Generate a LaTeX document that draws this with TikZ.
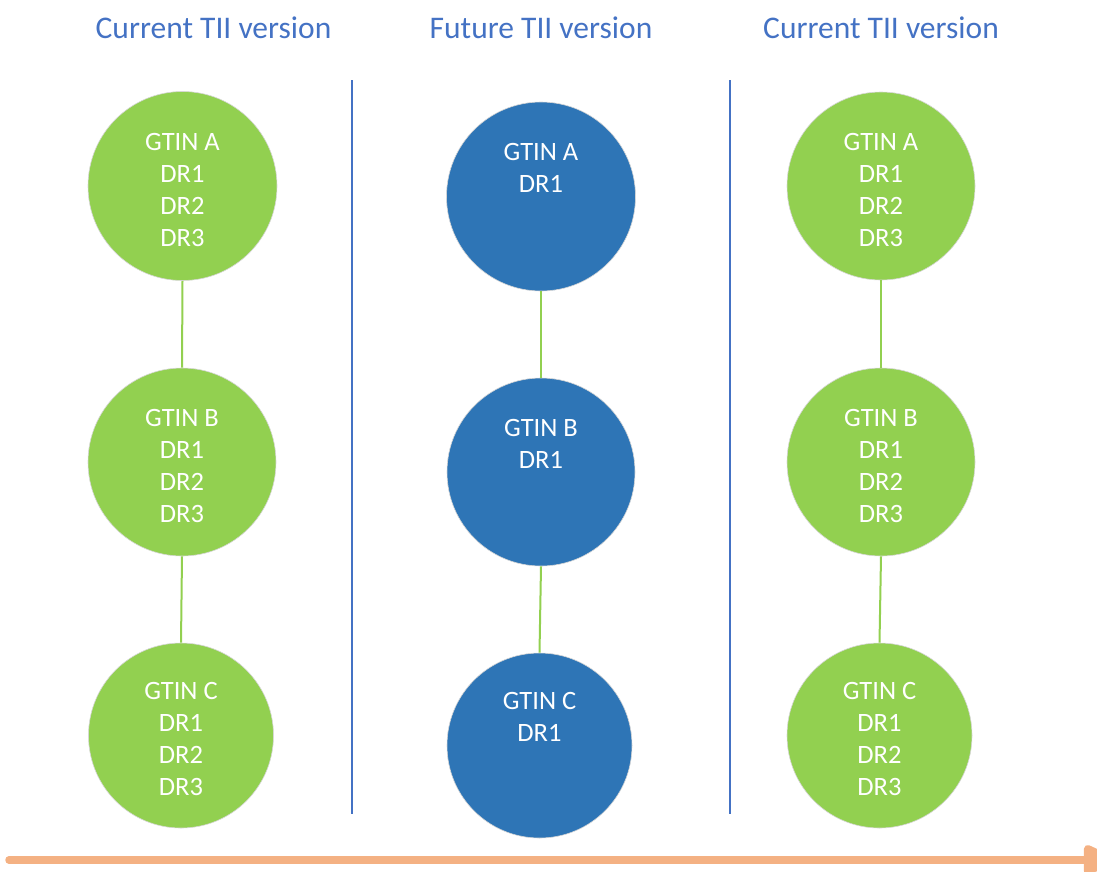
\documentclass[tikz,border=0pt]{standalone}
\usepackage{fontspec}
\setmainfont{Carlito}
\usetikzlibrary{arrows.meta}
\definecolor{leafgreen}{HTML}{92D050}
\definecolor{deepblue}{HTML}{2E75B6}
\definecolor{titleblue}{HTML}{4472C4}
\definecolor{timeorange}{HTML}{F4B183}
\tikzset{
  greenball/.style={circle, fill=leafgreen, draw=black!16, line width=0.6pt, inner sep=0pt},
  blueball/.style={circle, fill=deepblue, draw=black!16, line width=0.6pt, inner sep=0pt},
  celltext/.style={text=white, font=\fontsize{26.5}{30}\selectfont, inner sep=0pt, anchor=base},
  heading/.style={text=titleblue, font=\fontsize{31.5}{36}\selectfont, inner sep=0pt, anchor=base},
  divider/.style={draw=titleblue, line width=2.2pt},
  link/.style={draw=leafgreen, line width=2pt},
  timeline/.style={draw=timeorange, line width=7.5pt, line cap=round,
    -{Triangle[length=38pt, width=32pt, round=false]}}
}
% text line #2 (0 = top) inside circle #1
\newcommand\ringline[3]{%
  \path (#1.center) ++(0,{-36+32*#2}) node[celltext] (#1-l#2) {#3};}
\begin{document}
\begin{tikzpicture}[x=1pt, y=-1pt]
\useasboundingbox (0,0) rectangle (1097,871);

% column headings
\node[heading] (head-left)  at (213.5,38) {Current TII version};
\node[heading] (head-mid)   at (541,38)   {Future TII version};
\node[heading] (head-right) at (881,38)   {Current TII version};

% column dividers
\coordinate (div1-top) at (352,80);
\coordinate (div1-bot) at (352,814);
\coordinate (div2-top) at (730,80);
\coordinate (div2-bot) at (730,814);
\draw[divider] (div1-top) -- (div1-bot);
\draw[divider] (div2-top) -- (div2-bot);

% left column
\node[greenball, minimum size=189pt] (la) at (182.5,186) {};
\node[greenball, minimum size=188pt] (lb) at (182,462) {};
\node[greenball, minimum size=185pt] (lc) at (181,735.5) {};
% middle column
\node[blueball, minimum size=189pt] (ma) at (541,196.5) {};
\node[blueball, minimum size=188pt] (mb) at (541,472) {};
\node[blueball, minimum size=185pt] (mc) at (539.5,745.5) {};
% right column
\node[greenball, minimum size=188pt] (ra) at (881,186) {};
\node[greenball, minimum size=188pt] (rb) at (881,462) {};
\node[greenball, minimum size=185pt] (rc) at (879.5,735.5) {};

% links between circles
\draw[link] (la.south) -- (lb.north);
\draw[link] (lb.south) -- (lc.north);
\draw[link] (ma.south) -- (mb.north);
\draw[link] (mb.south) -- (mc.north);
\draw[link] (ra.south) -- (rb.north);
\draw[link] (rb.south) -- (rc.north);

% circle labels
\foreach \c/\g in {la/A, lb/B, lc/C, ra/A, rb/B, rc/C}{
  \ringline{\c}{0}{GTIN \g}
  \ringline{\c}{1}{DR1}
  \ringline{\c}{2}{DR2}
  \ringline{\c}{3}{DR3}
}
\foreach \c/\g in {ma/A, mb/B, mc/C}{
  \ringline{\c}{0}{GTIN \g}
  \ringline{\c}{1}{DR1}
}

% time axis
\coordinate (time-start) at (9,860);
\coordinate (time-end) at (1116,860);
\draw[timeline] (time-start) -- (time-end);
\end{tikzpicture}
\end{document}
